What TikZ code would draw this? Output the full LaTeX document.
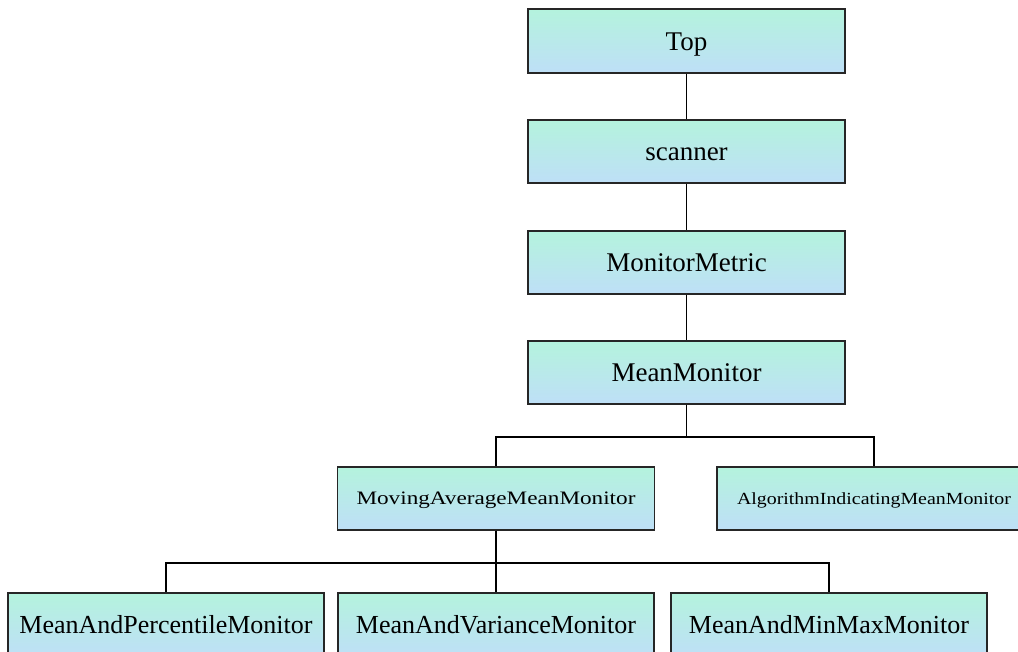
\documentclass[tikz,border=0pt]{standalone}
\usepackage{fontspec}
\setmainfont{Liberation Serif}
\begin{document}
\begin{tikzpicture}[x=1pt,y=1pt,
  box/.style={draw=black!85, line width=1.4pt, rectangle, inner sep=0pt,
    top color=mint, bottom color=skyb, minimum width=317pt, minimum height=63pt,
    font=\fontsize{27}{30}\selectfont, text height=18pt, text depth=0pt},
  smallbox/.style={box, text height=12.5pt},
  link/.style={draw=black, line width=1.6pt}]
\definecolor{mint}{HTML}{B4F3DD}
\definecolor{skyb}{HTML}{BEDFF7}
\useasboundingbox (0,0) rectangle (1018,-651);
\begin{scope}
\clip (0,0) rectangle (1018,-651);
\node[box, minimum height=64pt] (top) at (686.5,-41) {Top};
\node[box] (scan) at (686.5,-151.5) {scanner};
\node[box] (mmet) at (686.5,-262.5) {MonitorMetric};
\node[box] (mean) at (686.5,-372.5) {MeanMonitor};
\node[smallbox] (mam) at (496,-498.5)
  {\scalebox{1.22}[1]{\fontsize{19}{22}\selectfont MovingAverageMeanMonitor}};
\node[smallbox, minimum width=314pt, text height=11.5pt] (alg) at (874,-498.5)
  {\scalebox{1.17}[1]{\fontsize{17}{20}\selectfont AlgorithmIndicatingMeanMonitor}};
\node[box, minimum width=316pt, minimum height=64pt,
      font=\fontsize{26}{30}\selectfont, text height=17.5pt] (pct) at (166,-625)
  {MeanAndPercentileMonitor};
\node[box, minimum width=316pt, minimum height=64pt,
      font=\fontsize{26}{30}\selectfont, text height=17.5pt] (var) at (496,-625)
  {MeanAndVarianceMonitor};
\node[box, minimum width=316pt, minimum height=64pt,
      font=\fontsize{26}{30}\selectfont, text height=17.5pt] (mmx) at (829,-625)
  {MeanAndMinMaxMonitor};
\end{scope}
\draw[link] (top.south) -- (scan.north);
\draw[link] (scan.south) -- (mmet.north);
\draw[link] (mmet.south) -- (mean.north);
\draw[link] (mean.south) -- ++(0,-32) -| (mam.north);
\draw[link] (mean.south) -- ++(0,-32) -| (alg.north);
\draw[link] (mam.south) -- ++(0,-32) -| (pct.north);
\draw[link] (mam.south) -- ++(0,-32) -| (var.north);
\draw[link] (mam.south) -- ++(0,-32) -| (mmx.north);
\end{tikzpicture}
\end{document}
